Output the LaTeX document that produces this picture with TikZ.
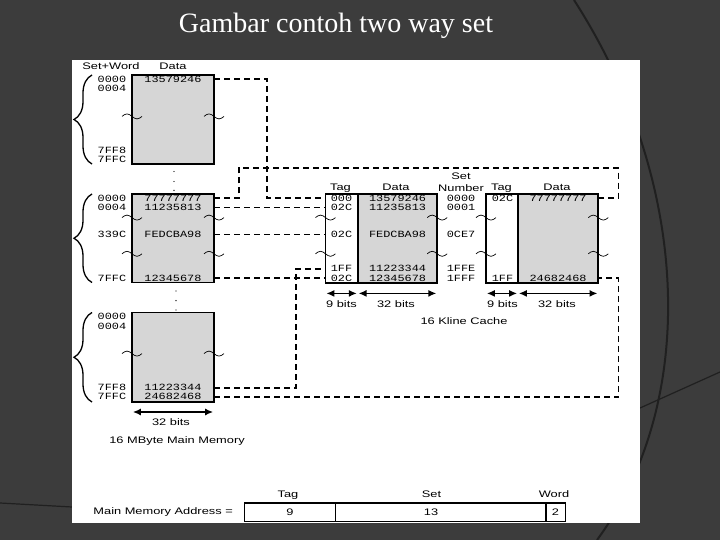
\documentclass[tikz,border=0pt]{standalone}
\usepackage{fontspec}
\setmainfont{Liberation Serif}
\newfontfamily\labfont[FakeStretch=1.35]{Liberation Sans}
\newfontfamily\hexfont[FakeStretch=1.25]{Liberation Mono}
\usetikzlibrary{arrows.meta,decorations.pathreplacing}

\definecolor{slide}{RGB}{60,60,60}
\definecolor{slideline}{RGB}{32,32,32}
\definecolor{memgray}{RGB}{214,214,214}

\tikzset{
  mem/.style={draw,line width=1.8pt,fill=memgray,inner sep=0pt,outer sep=0pt,anchor=north west},
  tagcol/.style={mem,fill=white},
  hex/.style={font=\hexfont\fontsize{9.5}{10}\selectfont,inner sep=0pt,text height=5.8pt,text depth=0pt},
  lab/.style={font=\labfont\fontsize{9.5}{10}\selectfont,inner sep=0pt,text height=6.8pt,text depth=0pt},
  link/.style={line width=1.8pt,dash pattern=on 6pt off 4pt},
  span/.style={<->,line width=1.6pt,shorten <=0.8pt,shorten >=0.8pt},
  brc/.style={decorate,decoration={brace,amplitude=18pt},line width=1.3pt},
  brk/.pic={\draw[line width=0.7pt] (-10,0) sin (-5,-2.5) cos (0,0) sin (5,2.5) cos (10,0);},
}

\begin{document}
\begin{tikzpicture}[x=1pt,y=-1pt,>={Latex[length=8pt,width=7pt]}]
  % slide
  \fill[slide] (0,0) rectangle (720,540);
  \useasboundingbox (0,0) rectangle (720,540);
  \draw[slideline,line width=2pt] (574,0) .. controls (690,180) and (700,400) .. (597,540);
  \draw[slideline,line width=1.2pt] (640,408) -- (720,372);
  \draw[slideline,line width=1.2pt] (0,503) -- (72,507);
  \fill[white] (72,60) rectangle (640,523);
  \node[anchor=base,text=white,font=\fontsize{28}{30}\selectfont] (ttl) at (336,32.3) {Gambar contoh two way set};

  % main memory
  \node[lab] (hSW) at (111,66) {Set+Word};
  \node[lab] (hMD) at (173,66) {Data};
  \node[mem,minimum width=82,minimum height=89] (memA) at (132,75) {};
  \node[mem,minimum width=82,minimum height=88.5] (memB) at (132,194) {};
  \node[mem,minimum width=82,minimum height=89.5] (memC) at (132,312.5) {};
  \draw[brc] (92,164) -- (92,75);
  \draw[brc] (92,282.5) -- (92,194);
  \draw[brc] (92,402) -- (92,312.5);

  \node[hex] (aA1) at (112,79.2) {0000};
  \node[hex] (aA2) at (112,88.8) {0004};
  \node[hex] (aA3) at (112,150.5) {7FF8};
  \node[hex] (aA4) at (112,159.8) {7FFC};
  \node[hex] (mA1) at (173,79.2) {13579246};

  \node[hex] (aB1) at (112,198.3) {0000};
  \node[hex] (aB2) at (112,207.6) {0004};
  \node[hex] (aB3) at (112,234.5) {339C};
  \node[hex] (aB4) at (112,278.2) {7FFC};
  \node[hex] (mB1) at (173,198.3) {77777777};
  \node[hex] (mB2) at (173,207.6) {11235813};
  \node[hex] (mB3) at (173,234.5) {FEDCBA98};
  \node[hex] (mB4) at (173,278.2) {12345678};

  \node[hex] (aC1) at (112,316.8) {0000};
  \node[hex] (aC2) at (112,326.4) {0004};
  \node[hex] (aC3) at (112,388) {7FF8};
  \node[hex] (aC4) at (112,397) {7FFC};
  \node[hex] (mC1) at (173,388) {11223344};
  \node[hex] (mC2) at (173,397) {24682468};

  \pic at (132,116.4) {brk};  \pic at (214,116.4) {brk};
  \pic at (132,217.6) {brk};  \pic at (214,217.6) {brk};
  \pic at (132,253.8) {brk};  \pic at (214,253.8) {brk};
  \pic at (132,353.6) {brk};  \pic at (214,353.6) {brk};
  \fill (174,171.5) circle (0.7) (174,181.5) circle (0.7) (174,190.4) circle (0.7);
  \fill (176,291) circle (0.7) (176,300.6) circle (0.7) (176,310) circle (0.7);

  \coordinate (arM) at (0,412);
  \draw[span] (memC.west |- arM) -- (memC.east |- arM);
  \node[lab] (bM) at (171,422.5) {32 bits};
  \node[lab] (capM) at (177,439.7) {16 MByte Main Memory};

  % cache
  \node[lab] (hT1) at (340.5,187) {Tag};
  \node[lab] (hD1) at (396,187) {Data};
  \node[lab] (hS1) at (461,176.5) {Set};
  \node[lab] (hS2) at (461,188.3) {Number};
  \node[lab] (hT2) at (501.5,187) {Tag};
  \node[lab] (hD2) at (557,187) {Data};
  \node[tagcol,minimum width=32.2,minimum height=89] (w1tag) at (325.5,194) {};
  \node[mem,minimum width=79.5,minimum height=89] (w1dat) at (357.7,194) {};
  \node[tagcol,minimum width=32,minimum height=89] (w2tag) at (486,194) {};
  \node[mem,minimum width=80.3,minimum height=89] (w2dat) at (518,194) {};

  \node[hex] (w1t1) at (341.5,198.3) {000};
  \node[hex] (w1t2) at (341.5,207.6) {02C};
  \node[hex] (w1t3) at (341.5,234.5) {02C};
  \node[hex] (w1t4) at (341.5,268.8) {1FF};
  \node[hex] (w1t5) at (341.5,278.2) {02C};
  \node[hex] (w1d1) at (397.5,198.3) {13579246};
  \node[hex] (w1d2) at (397.5,207.6) {11235813};
  \node[hex] (w1d3) at (397.5,234.5) {FEDCBA98};
  \node[hex] (w1d4) at (397.5,268.8) {11223344};
  \node[hex] (w1d5) at (397.5,278.2) {12345678};
  \node[hex] (sn1) at (461,198.3) {0000};
  \node[hex] (sn2) at (461,207.6) {0001};
  \node[hex] (sn3) at (461,234.5) {0CE7};
  \node[hex] (sn4) at (461,268.8) {1FFE};
  \node[hex] (sn5) at (461,278.2) {1FFF};
  \node[hex] (w2t1) at (502.5,198.3) {02C};
  \node[hex] (w2t5) at (502.5,278.2) {1FF};
  \node[hex] (w2d1) at (558,198.3) {77777777};
  \node[hex] (w2d5) at (558,278.2) {24682468};

  \pic at (325.5,217.6) {brk};  \pic at (437.2,217.6) {brk};
  \pic at (325.5,253.8) {brk};  \pic at (437.2,253.8) {brk};
  \pic at (486,217.6) {brk};    \pic at (598.3,217.6) {brk};
  \pic at (486,253.8) {brk};    \pic at (598.3,253.8) {brk};

  \coordinate (arC) at (0,293.4);
  \draw[span] (w1tag.west |- arC) -- (w1tag.east |- arC);
  \draw[span] (w1dat.west |- arC) -- (w1dat.east |- arC);
  \draw[span] (w2tag.west |- arC) -- (w2tag.east |- arC);
  \draw[span] (w2dat.west |- arC) -- (w2dat.east |- arC);
  \node[lab] (b1) at (341.5,304) {9 bits};
  \node[lab] (b2) at (396,304) {32 bits};
  \node[lab] (b3) at (502.5,304) {9 bits};
  \node[lab] (b4) at (557,304) {32 bits};
  \node[lab] (capC) at (464,321.5) {16 Kline Cache};

  % mapping lines
  \coordinate (jA) at (267.2,0);
  \coordinate (jB) at (239.2,167.7);
  \coordinate (jC) at (295.7,0);
  \coordinate (jR) at (618.5,0);
  \draw[link] (memA.east |- mA1) -- (jA |- mA1) -- (jA |- w1t1) -- (w1tag.west |- w1t1);
  \draw[link] (memB.east |- mB1) -- (jB |- mB1) -- (jB) -- (jR |- jB) -- (jR |- w2d1) -- (w2dat.east |- w2d1);
  \draw[link] (memB.east |- mB2) -- (w1tag.west |- w1t2);
  \draw[link] (memB.east |- mB3) -- (w1tag.west |- w1t3);
  \draw[link] (memB.east |- mB4) -- (w1tag.west |- w1t5);
  \draw[link] (memC.east |- mC1) -- (jC |- mC1) -- (jC |- w1t4) -- (w1tag.west |- w1t4);
  \draw[link] (memC.east |- mC2) -- (jR |- mC2) -- (jR |- w2d5) -- (w2dat.east |- w2d5);

  % address format
  \node[lab] (fT) at (288,494.5) {Tag};
  \node[lab] (fS) at (431.5,494.5) {Set};
  \node[lab] (fW) at (554,494.5) {Word};
  \node[lab,anchor=east] (fL) at (233,511) {Main Memory Address =};
  \node[tagcol,line width=1.5pt,minimum width=91,minimum height=18.5] (fTag) at (244.5,503) {};
  \node[tagcol,line width=1.5pt,minimum width=210.5,minimum height=18.5] (fSet) at (335.5,503) {};
  \node[tagcol,line width=1.5pt,minimum width=19.5,minimum height=18.5] (fWord) at (546,503) {};
  \node[lab] (vT) at (290,512.5) {9};
  \node[lab] (vS) at (431,512.5) {13};
  \node[lab] (vW) at (555.5,512.5) {2};
\end{tikzpicture}
\end{document}
